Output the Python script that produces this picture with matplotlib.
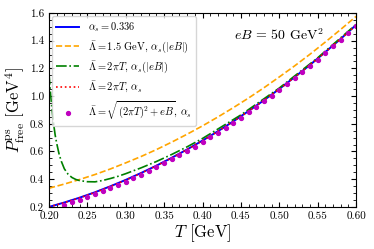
import numpy as np
import matplotlib
matplotlib.use("Agg")
import matplotlib.pyplot as plt
from matplotlib.ticker import MultipleLocator, FormatStrFormatter

plt.rcParams['font.family'] = 'serif'
plt.rcParams['font.serif'] = ['cmr10']
plt.rcParams['mathtext.fontset'] = 'cm'
plt.rcParams['axes.formatter.use_mathtext'] = True

# temperature grid for the smooth curves
T = [0.20, 0.22, 0.24, 0.26, 0.28, 0.30, 0.32, 0.34, 0.36, 0.38, 0.40,
     0.42, 0.44, 0.46, 0.48, 0.50, 0.52, 0.54, 0.56, 0.58, 0.60]

# alpha_s = 0.336
p_const = [0.200, 0.232, 0.267, 0.306, 0.349, 0.395, 0.445, 0.498, 0.555, 0.615, 0.679,
           0.746, 0.817, 0.892, 0.970, 1.051, 1.137, 1.225, 1.318, 1.413, 1.513]
# Lambda = 1.5 GeV, alpha_s(|eB|)
p_fixed = [0.335, 0.365, 0.398, 0.434, 0.474, 0.518, 0.564, 0.614, 0.668, 0.725, 0.785,
           0.849, 0.916, 0.986, 1.060, 1.138, 1.218, 1.302, 1.390, 1.481, 1.575]
# Lambda = 2 pi T, alpha_s
p_2piT = [0.200, 0.231, 0.266, 0.305, 0.348, 0.394, 0.444, 0.497, 0.554, 0.614, 0.678,
          0.745, 0.816, 0.891, 0.969, 1.050, 1.136, 1.224, 1.317, 1.412, 1.512]

# Lambda = 2 pi T, alpha_s(|eB|)
T_run = [0.200, 0.202, 0.204, 0.206, 0.208, 0.210, 0.213, 0.216, 0.220, 0.225,
         0.230, 0.235, 0.240, 0.250, 0.260, 0.270, 0.280, 0.290, 0.300, 0.320,
         0.340, 0.360, 0.380, 0.400, 0.450, 0.500, 0.550, 0.600]
p_run = [1.16, 1.02, 0.90, 0.80, 0.72, 0.66, 0.585, 0.53, 0.475, 0.435,
         0.412, 0.398, 0.390, 0.382, 0.381, 0.391, 0.405, 0.421, 0.440, 0.482,
         0.528, 0.579, 0.634, 0.694, 0.864, 1.058, 1.276, 1.517]

# Lambda = sqrt((2 pi T)^2 + eB), alpha_s
T_pts = [0.22, 0.23, 0.24, 0.25, 0.26, 0.27, 0.28, 0.29, 0.30, 0.31,
         0.32, 0.33, 0.34, 0.35, 0.36, 0.37, 0.38, 0.39, 0.40, 0.41,
         0.42, 0.43, 0.44, 0.45, 0.46, 0.47, 0.48, 0.49, 0.50, 0.51,
         0.52, 0.53, 0.54, 0.55, 0.56, 0.57, 0.58, 0.59, 0.60]
p_pts = [0.217, 0.234, 0.253, 0.272, 0.292, 0.313, 0.335, 0.358, 0.382, 0.406,
         0.432, 0.459, 0.486, 0.515, 0.544, 0.573, 0.604, 0.636, 0.669, 0.702,
         0.736, 0.771, 0.807, 0.845, 0.883, 0.921, 0.961, 1.002, 1.043, 1.086,
         1.129, 1.173, 1.218, 1.264, 1.312, 1.359, 1.408, 1.458, 1.508]

fig = plt.figure(figsize=(3.74, 2.49), dpi=100)
ax = fig.add_axes([0.131, 0.169, 0.821, 0.779])

ax.plot(T, p_const, '-', color='blue', lw=1.4, label=r'$\alpha_s = 0.336$')
ax.plot(T, p_fixed, '--', color='orange', lw=1.2,
        label=r'$\bar{\Lambda} = 1.5$ GeV, $\alpha_s(|eB|)$')
ax.plot(T_run, p_run, '-.', color='green', lw=1.2,
        label=r'$\bar{\Lambda} = 2\pi T$, $\alpha_s(|eB|)$')
ax.plot(T, p_2piT, ':', color='red', lw=1.2, label=r'$\bar{\Lambda} = 2\pi T$, $\alpha_s$')
ax.plot(T_pts, p_pts, 'o', color='m', ms=2.8, lw=0,
        label=r'$\bar{\Lambda} = \sqrt{(2\pi T)^2 + eB}$, $\alpha_s$')

ax.set_xlim(0.2, 0.6)
ax.set_ylim(0.2, 1.6)
ax.xaxis.set_major_locator(MultipleLocator(0.05))
ax.xaxis.set_minor_locator(MultipleLocator(0.01))
ax.yaxis.set_major_locator(MultipleLocator(0.2))
ax.yaxis.set_minor_locator(MultipleLocator(0.05))
ax.xaxis.set_major_formatter(FormatStrFormatter('%.2f'))
ax.yaxis.set_major_formatter(FormatStrFormatter('%.1f'))
ax.tick_params(which='both', direction='in', top=True, right=True, labelsize=8)
ax.tick_params(which='major', length=3.5)
ax.tick_params(which='minor', length=2)

ax.set_xlabel(r'$T$ [GeV]', fontsize=12, labelpad=1)
ax.set_ylabel(r'$P^{\rm ps}_{\rm free}$ [GeV$^4$]', fontsize=12, labelpad=2)
ax.text(0.441, 1.44, r'$eB\,=\,50$ GeV$^2$', fontsize=10, ha='left', va='center')

ax.legend(loc='upper left', fontsize=7.5, handlelength=2.2, labelspacing=0.45,
          borderaxespad=0.3, frameon=True, fancybox=True)

fig.savefig('out.png', dpi=100)
